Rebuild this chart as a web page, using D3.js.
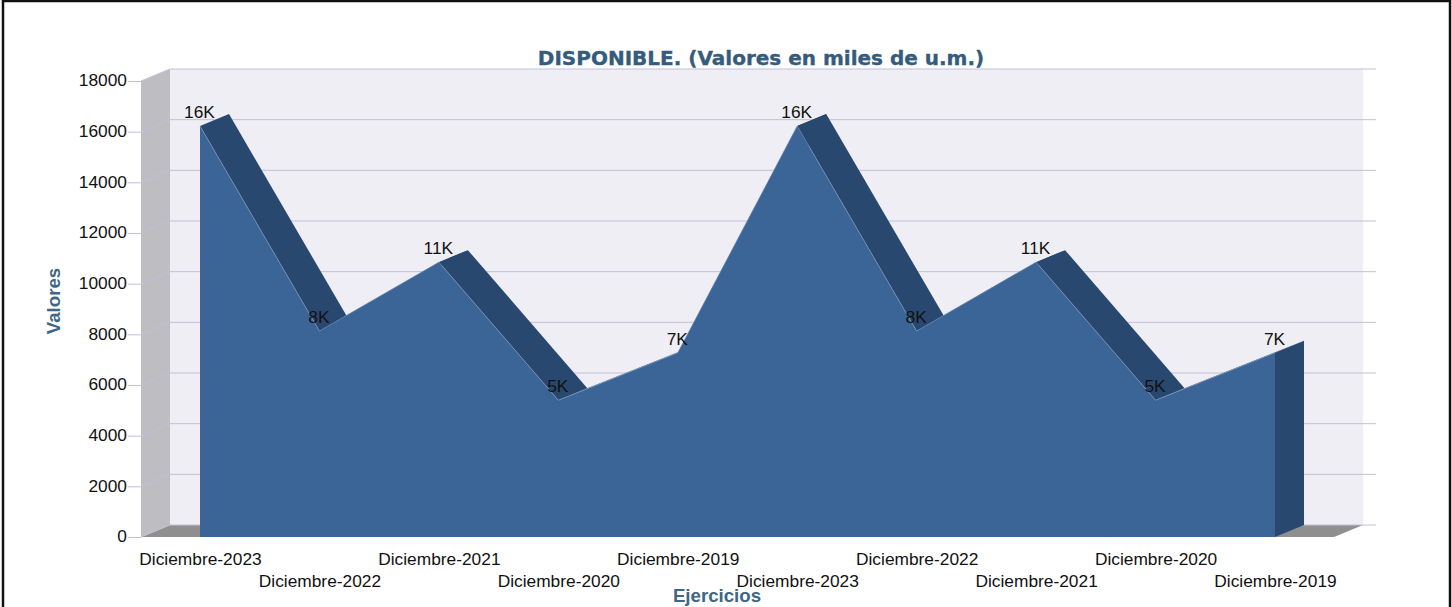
<!DOCTYPE html>
<html><head><meta charset="utf-8">
<script src="https://cdn.jsdelivr.net/npm/d3@7/dist/d3.min.js"></script>
<style>html,body{margin:0;padding:0;background:#fff;overflow:hidden}svg{display:block}</style>
</head><body><svg id="c" width="1452" height="607"></svg>
<script>
const categories=["Diciembre-2023","Diciembre-2022","Diciembre-2021","Diciembre-2020","Diciembre-2019","Diciembre-2023","Diciembre-2022","Diciembre-2021","Diciembre-2020","Diciembre-2019"];
const values=[16220,8130,10850,5400,7270,16220,8130,10850,5400,7270];
const valueLabels=["16K","8K","11K","5K","7K","16K","8K","11K","5K","7K"];
const yTicks=[0,2000,4000,6000,8000,10000,12000,14000,16000,18000];
const titleText="DISPONIBLE. (Valores en miles de u.m.)";
const xTitle="Ejercicios", yTitle="Valores";

const svg=d3.select("#c");
const W=1452,H=607;
const pLeft=141,pRight=1334,pTop=81,pBottom=537,dx=29,dy=-12;
const y=d3.scaleLinear().domain([0,18000]).range([pBottom,pTop]);
const x=d3.scaleLinear().domain([0,categories.length-1]).range([200,1275]);
const idx=d3.range(categories.length);
const sans="'Liberation Sans',Arial,sans-serif";
const grid="#c2bfd9";
const ink="#111";
const tf="17.33px "+sans;

svg.append("rect").attr("x",3).attr("y",1).attr("width",1447).attr("height",H+10)
  .attr("fill","#fff").attr("stroke","#111").attr("stroke-width",2.5);

// back panel, side wall, floor
svg.append("rect").attr("x",pLeft+dx).attr("y",pTop+dy).attr("width",pRight-pLeft).attr("height",pBottom-pTop).attr("fill","#efeef4");
svg.append("path").attr("fill","#bebdc2")
  .attr("d",d3.line()([[pLeft,pTop],[pLeft+dx,pTop+dy],[pLeft+dx,pBottom+dy],[pLeft,pBottom]])+"Z");
svg.append("path").attr("fill","#8f8f8f")
  .attr("d",d3.line()([[pLeft,pBottom],[pLeft+dx,pBottom+dy],[pRight+dx,pBottom+dy],[pRight,pBottom]])+"Z");

// grid
svg.append("g").selectAll("path").data(yTicks).join("path")
  .attr("fill","none").attr("stroke",grid).attr("stroke-width",1)
  .attr("d",t=>d3.line()([[pLeft,y(t)],[pLeft+dx,y(t)+dy],[1376,y(t)+dy]]));

// y axis
const axis=svg.append("g").attr("transform",`translate(${pLeft},0)`)
  .call(d3.axisLeft(y).tickValues(yTicks).tickFormat(d3.format("d")).tickSize(13).tickPadding(1));
axis.select(".domain").remove();
axis.selectAll("line").attr("stroke",grid);
axis.selectAll("text").attr("fill",ink).attr("y",-0.8).style("font",tf);

// depth faces
const segs=d3.pairs(idx);
svg.append("g").selectAll("path").data(segs).join("path")
  .attr("fill","#29486f")
  .attr("d",([a,b])=>d3.line()([[x(a),y(values[a])],[x(a)+dx,y(values[a])+dy],[x(b)+dx,y(values[b])+dy],[x(b),y(values[b])]])+"Z");
const n=idx[idx.length-1];
svg.append("path").attr("fill","#29486f")
  .attr("d",d3.line()([[x(n),y(values[n])],[x(n)+dx,y(values[n])+dy],[x(n)+dx,pBottom+dy],[x(n),pBottom]])+"Z");

// front area
const area=d3.area().x(i=>x(i)).y0(pBottom).y1(i=>y(values[i]));
svg.append("path").datum(idx).attr("fill","#3b6597").attr("d",area);
svg.append("path").datum(idx).attr("fill","none").attr("stroke","#7f9cc0").attr("stroke-width",.6)
  .attr("d",d3.line().x(i=>x(i)).y(i=>y(values[i])));

// value labels
svg.append("g").selectAll("text").data(idx).join("text")
  .attr("x",i=>x(i)-0.5).attr("y",i=>y(values[i])-8)
  .attr("text-anchor","middle").attr("fill",ink).style("font",tf)
  .text(i=>valueLabels[i]);

// category labels
svg.append("g").selectAll("text").data(idx).join("text")
  .attr("x",i=>x(i)+0.5).attr("y",i=>i%2?587:565)
  .attr("text-anchor","middle").attr("fill",ink).style("font",tf)
  .text(i=>categories[i]);

// titles
svg.append("text").attr("x",761).attr("y",65).attr("text-anchor","middle")
  .attr("fill","#355b7d").attr("stroke","#355b7d").attr("stroke-width",.35)
  .style("font","bold 20px 'DejaVu Sans',Verdana,sans-serif").text(titleText);
svg.append("text").attr("x",717).attr("y",602).attr("text-anchor","middle")
  .attr("fill","#3e6686").style("font","bold 18.67px "+sans).text(xTitle);
svg.append("text").attr("transform","translate(60,301) rotate(-90)").attr("text-anchor","middle")
  .attr("fill","#3e6686").style("font","bold 18.67px "+sans).text(yTitle);
</script></body></html>
